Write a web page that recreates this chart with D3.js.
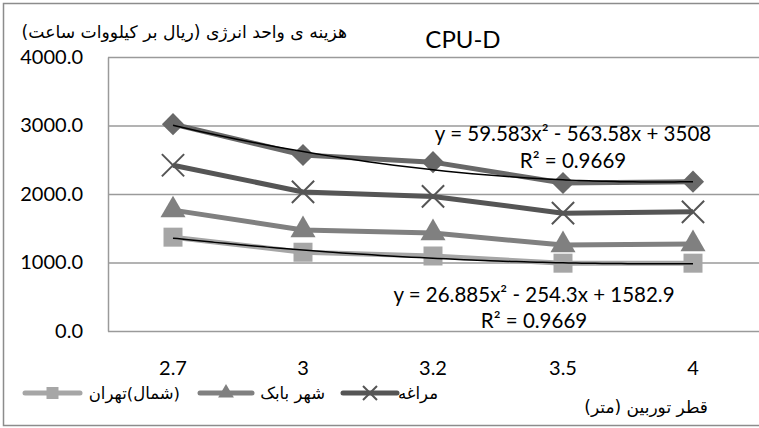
<!DOCTYPE html>
<html>
<head>
<meta charset="utf-8">
<script src="https://cdn.jsdelivr.net/npm/d3@7"></script>
<style>
  body { margin: 0; background: #fff; }
  svg { display: block; }
  .num { font-family: Lato, "Open Sans", sans-serif; fill: #000; }
  .fa { font-family: "DejaVu Sans", sans-serif; fill: #000; }
</style>
</head>
<body>
<div id="chart"></div>
<script>
const W = 759, H = 428;
const margin = {top: 57, right: 1, bottom: 97, left: 108};

// data
const categories = ["2.7", "3", "3.2", "3.5", "4"];
const yTicks = [0, 1000, 2000, 3000, 4000];
const tehran = [1370, 1150, 1095, 990, 990];
const shahrBabak = [1765, 1475, 1430, 1255, 1270];
const maragheh = [2420, 2030, 1965, 1720, 1740];
const seriesD = [3020, 2570, 2465, 2160, 2180];
const trendD = [59.583, -563.58, 3508];
const trendTehran = [26.885, -254.3, 1582.9];

const svg = d3.select("#chart").append("svg")
    .attr("width", W)
    .attr("height", H);

// outer frame
svg.append("rect")
    .attr("x", 3.5).attr("y", 3.5)
    .attr("width", W + 10).attr("height", 422)
    .attr("fill", "none")
    .attr("stroke", "#8c8c8c")
    .attr("stroke-width", 1.5);

const x = d3.scaleBand()
    .domain(categories)
    .range([margin.left, W - margin.right]);
const y = d3.scaleLinear()
    .domain([0, 4000])
    .range([H - margin.bottom, margin.top]);
const cx = d => x(d) + x.bandwidth() / 2;

// grid lines
svg.append("g")
    .attr("transform", `translate(${margin.left},0)`)
    .call(d3.axisLeft(y).tickValues(yTicks).tickSize(-(W - margin.left)).tickFormat(""))
    .call(g => g.select(".domain").remove())
    .selectAll("line")
        .attr("stroke", "#9a9a9a")
        .attr("stroke-width", 1.5);

// y axis
svg.append("g")
    .attr("transform", `translate(${margin.left},0)`)
    .call(d3.axisLeft(y).tickValues(yTicks).tickSize(0).tickPadding(25).tickFormat(d3.format(".1f")))
    .call(g => g.select(".domain").attr("stroke", "#9a9a9a").attr("stroke-width", 1.5))
    .selectAll("text")
        .attr("class", "num")
        .style("font-size", "20px");

// x axis
svg.append("g")
    .attr("transform", `translate(0,${H - margin.bottom})`)
    .call(d3.axisBottom(x).tickSize(0).tickPadding(30))
    .call(g => g.select(".domain").remove())
    .selectAll("text")
        .attr("class", "num")
        .style("font-size", "20px");

const line = d3.line()
    .x((d, i) => cx(categories[i]))
    .y(d => y(d));

const series = [
    {name: "tehran", values: tehran, color: "#a6a6a6", marker: "square"},
    {name: "babak", values: shahrBabak, color: "#808080", marker: "triangle"},
    {name: "maragheh", values: maragheh, color: "#555555", marker: "x"},
    {name: "d", values: seriesD, color: "#686868", marker: "diamond"}
];

function drawMarker(g, type, color, px, py, s) {
    if (type === "x") {
        g.append("path")
            .attr("d", d3.symbol(d3.symbolX, s * s * 0.9)())
            .attr("transform", `translate(${px},${py})`)
            .attr("fill", "none")
            .attr("stroke", color)
            .attr("stroke-width", 2);
        return;
    }
    let sym = d3.symbolSquare, size = s * s, rot = 0;
    if (type === "triangle") { sym = d3.symbolTriangle; size = s * s * 0.75; }
    if (type === "diamond") { size = s * s * 0.68; rot = 45; }
    g.append("path")
        .attr("d", d3.symbol(sym, size)())
        .attr("transform", `translate(${px},${py}) rotate(${rot})`)
        .attr("fill", color);
}

series.forEach(s => {
    svg.append("path")
        .datum(s.values)
        .attr("d", line)
        .attr("fill", "none")
        .attr("stroke", s.color)
        .attr("stroke-width", 5)
        .attr("stroke-linejoin", "round");
    const g = svg.append("g");
    s.values.forEach((v, i) => {
        drawMarker(g, s.marker, s.color, cx(categories[i]), y(v), 19);
    });
});

// polynomial trend lines from the equations shown on the chart
const xi = d3.scaleLinear().domain([1, categories.length]).range([cx(categories[0]), cx(categories[categories.length - 1])]);
const poly = (c, t) => c[0] * t * t + c[1] * t + c[2];
const trendLine = d3.line().curve(d3.curveMonotoneX);
[trendD, trendTehran].forEach(c => {
    const pts = d3.range(1, 5.001, 0.1).map(t => [xi(t), y(poly(c, t))]);
    svg.append("path")
        .attr("d", trendLine(pts))
        .attr("fill", "none")
        .attr("stroke", "#000")
        .attr("stroke-width", 1.5);
});

// equation labels
const eqs = [
    {text: "y = 59.583x² - 563.58x + 3508", x: 573, y: 141},
    {text: "R² = 0.9669", x: 573, y: 168},
    {text: "y = 26.885x² - 254.3x + 1582.9", x: 534, y: 302},
    {text: "R² = 0.9669", x: 534, y: 328}
];
svg.selectAll(".eq")
    .data(eqs)
    .enter()
    .append("text")
        .attr("class", "num")
        .attr("x", d => d.x)
        .attr("y", d => d.y)
        .attr("text-anchor", "middle")
        .style("font-size", "20.5px")
        .text(d => d.text);

// title
svg.append("text")
    .attr("class", "num")
    .attr("x", 463)
    .attr("y", 48)
    .attr("text-anchor", "middle")
    .style("font-size", "24px")
    .text("CPU-D");

// axis titles
svg.append("text")
    .attr("class", "fa")
    .attr("x", 347)
    .attr("y", 38)
    .attr("direction", "rtl")
    .attr("text-anchor", "start")
    .style("font-size", "17.2px")
    .text("هزینه ی واحد انرژی (ریال بر کیلووات ساعت)");

svg.append("text")
    .attr("class", "fa")
    .attr("x", 708)
    .attr("y", 413)
    .attr("direction", "rtl")
    .attr("text-anchor", "start")
    .style("font-size", "17px")
    .text("قطر توربین (متر)");

// legend
const legend = [
    {label: "(شمال)تهران", color: "#a6a6a6", marker: "square", x0: 25, x1: 80, tx: 180},
    {label: "شهر بابک", color: "#808080", marker: "triangle", x0: 200, x1: 252, tx: 325},
    {label: "مراغه", color: "#555555", marker: "x", x0: 343, x1: 397, tx: 438}
];
const ly = 393;
legend.forEach(l => {
    const g = svg.append("g");
    g.append("line")
        .attr("x1", l.x0).attr("x2", l.x1)
        .attr("y1", ly).attr("y2", ly)
        .attr("stroke", l.color)
        .attr("stroke-width", 5)
        .attr("stroke-linecap", "round");
    drawMarker(g, l.marker, l.color, (l.x0 + l.x1) / 2, ly, 12);
    g.append("text")
        .attr("class", "fa")
        .attr("x", l.tx)
        .attr("y", ly + 6)
        .attr("direction", "rtl")
        .attr("text-anchor", "start")
        .style("font-size", "16.5px")
        .text(l.label);
});
</script>
</body>
</html>
